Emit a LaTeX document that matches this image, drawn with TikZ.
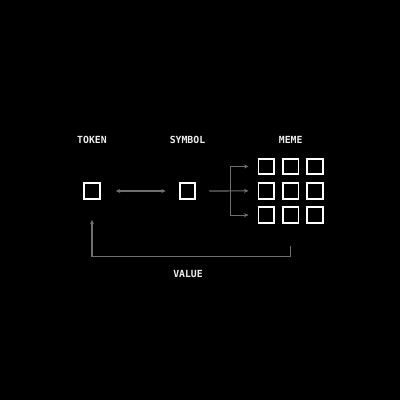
\documentclass[tikz,border=0pt]{standalone}
\usepackage{fontspec}
\newfontfamily\tagfont{DejaVu Sans Mono}
\usetikzlibrary{arrows.meta, positioning, calc}
\tikzset{>={Stealth}}
\definecolor{linkgray}{HTML}{6E6E6E}
\definecolor{tagwhite}{HTML}{EDEDED}

\begin{document}
\begin{tikzpicture}[
  x=1pt, y=-1pt,
  cell/.style={draw=white, line width=1.8pt, minimum size=15.7pt, inner sep=0pt},
  link/.style={draw=linkgray, line width=1.2pt, >={Stealth[length=4.5pt,width=4pt]}},
  tag/.style={text=tagwhite, font=\tagfont\bfseries\fontsize{9.8}{10}\selectfont}
]
  % Background
  \fill[black] (0,0) rectangle (400,400);

  % Nodes
  \node[cell] (tok) at (92,191) {};
  \node[cell] (sym) at (187.5,191) {};
  \foreach \r in {0,1,2}
    \foreach \c in {0,1,2}
      \node[cell] (m\r\c) at (266.3+24.4*\c, 166.5+24.3*\r) {};

  % Labels
  \node[tag] (toklabel) at (92,140) {TOKEN};
  \node[tag] (symlabel) at (187.5,140) {SYMBOL};
  \node[tag] (memelabel) at (290.7,140) {MEME};
  \node[tag] (vallabel) at (188,274) {VALUE};

  % Token <-> symbol
  \draw[link, <->, shorten <=15pt, shorten >=13pt] (tok) -- (sym);

  % Symbol -> meme rows
  \coordinate (fork) at (230.7,191);
  \draw[link, ->, shorten <=13pt, shorten >=9pt] (sym.east) -- (m10.west);
  \draw[link, ->, shorten >=9pt] (fork) |- (m00.west);
  \draw[link, ->, shorten >=9pt] (fork) |- (m20.west);

  % Value loop back to token
  \coordinate (loop) at (188,256.7);
  \draw[link, ->, shorten <=22pt, shorten >=20pt] (m21.south) |- (loop) -| (tok.south);
\end{tikzpicture}
\end{document}
